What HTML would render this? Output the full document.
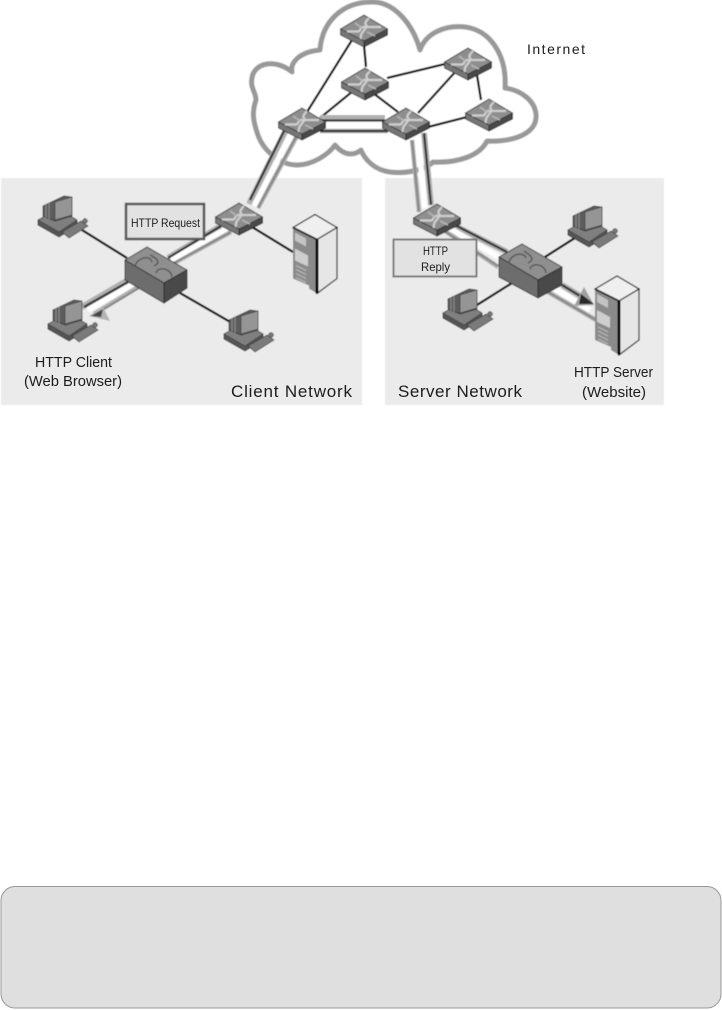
<!DOCTYPE html>
<html><head><meta charset="utf-8"><style>
html,body{margin:0;padding:0;background:#fff}
svg{display:block}
text{font-family:"Liberation Sans",sans-serif;fill:#1c1c1c}
</style></head><body>
<svg width="722" height="1010" viewBox="0 0 722 1010" xmlns="http://www.w3.org/2000/svg">
<defs>
<filter id="b" x="-5%" y="-5%" width="110%" height="110%"><feGaussianBlur stdDeviation="0.4"/></filter>
<g id="router">
<path d="M-23.500 0L0 12V18L-23.500 6Z" fill="#767676" stroke="#222" stroke-width=".7"/>
<path d="M23.500 0L0 12V18L23.500 6Z" fill="#4a4a4a" stroke="#111" stroke-width=".7"/>
<path d="M-23.500 0L0 -14L23.500 0L0 12Z" fill="#8e8e8e" stroke="#333" stroke-width=".8"/>
<path d="M-17 2.500H-6C-3 2.500 -5 -1 -1 -2H17M-3 10C-5 3 5 -1 2 -4C0 -6 3 -9 5 -11" fill="none" stroke="#cfcfcf" stroke-width="2.200"/>
<path d="M-9 -6L-2 -1M3 3L11 7" fill="none" stroke="#b4b4b4" stroke-width="1.800"/>
</g>
<g id="pc">
<path d="M-24 -4L-24 1L-3 13L15 2V-4L-4 -15Z" fill="#555" stroke="#222" stroke-width=".7"/>
<path d="M-24 -4L-3 8L15 -4L-4 -15Z" fill="#7f7f7f" stroke="#333" stroke-width=".6"/>
<path d="M-19 -18L2 -28L10 -27V-8L-7 -3L-19 -8Z" fill="#5c5c5c" stroke="#2a2a2a" stroke-width=".7"/>
<path d="M-13 -21V-5M-16 -19.500V-6.500" stroke="#8a8a8a" stroke-width="1.200"/>
<path d="M-7 -22L10 -27V-9L-7 -4Z" fill="#959595" stroke="#333" stroke-width=".6"/>
<path d="M0 8L19 -3L26 2L7 14Z" fill="#7a7a7a" stroke="#333" stroke-width=".7"/>
<circle cx="23" cy="-3" r="2.500" fill="#777" stroke="#333" stroke-width=".5"/>
</g>
<g id="server">
<path d="M0 12L22 -1L44 12L24 24Z" fill="#efefef" stroke="#111" stroke-width="1.200"/>
<path d="M24 24L44 12V63L24 78Z" fill="#e6e6e6" stroke="#111" stroke-width="1.200"/>
<path d="M0 12L24 24V78L16 73V70L0 63Z" fill="#8a8a8a"/>
<path d="M0 12L24 24" stroke="#000" stroke-width="1.800"/>
<path d="M24 24V78" stroke="#000" stroke-width="3"/>
<path d="M2 17L13 23V31L2 25Z" fill="#c4c4c4"/>
<path d="M2 33L15 40V51L2 45Z" fill="#cecece"/>
<path d="M3 50L13 55M3 54L13 59M3 58L13 63M3 62L13 67" stroke="#bbb" stroke-width="1"/>
</g>
</defs>
<g filter="url(#b)">
<rect x="1" y="178" width="361" height="227" fill="#ebebeb"/>
<rect x="385" y="178" width="279" height="227" fill="#ebebeb"/>
<path d="M320 50C322 22 342 2 372 2C395 2 413 25 420 50C426 33 445 25 465 27C490 30 507 55 505 88C520 90 535 100 536 115C537 133 515 142 487 141C480 155 460 163 433 162C425 170 405 174 390 172C375 170 365 160 361 150C355 155 345 157 335 145C328 155 312 165 297 165C280 165 262 150 257 132C253 120 252 112 256 100C256 92 250 88 252 78C254 63 275 58 292 72C290 62 300 52 320 50Z" fill="#fff" stroke="#999" stroke-width="5" stroke-linejoin="round"/>
<g stroke="#000" stroke-width="2.300" fill="none">
<path d="M352 40L307 112M364 45L366 67M353 91L320 118M373 93L398 112M387 78L445 64M457 70L418 113M477 75L481 100M428 127L467 117M82 230L127 258M252 227L293 252M180 293L232 323M545 257L578 236M512 283L477 305"/>
</g>
<g fill="none">
<g stroke="#b0b0b0" stroke-width="6">
<path d="M320 118H385M286 130L249 204M221 226L168 258M128 280L82 307M424 133L431 205M455 226L507 252M562 285L590 302"/>
</g>
<g stroke="#b0b0b0" stroke-width="4.500">
<path d="M320 131H388M297 136L258 208M231 232L174 263M138 287L94 314M412 140L419 212M444 230L498 267M548 292L596 320"/>
</g>
<g stroke="#fff" stroke-width="5.500">
<path d="M320 124.500H388M291.500 133L254 206M226 229L171 260M133 284L88 310M418 137L425 208M449 228L502 259M555 289L590 310"/>
</g>
<g stroke="#333" stroke-width="2.200">
<path d="M320 120.500H385M320 131H388M285 129L250 200M221 226L168 258M128 282L84 307M424 133L431 205M455 225L507 252M562 285L590 302"/>
</g>
<g stroke="#888" stroke-width="2">
<path d="M296 137L258 208M231 232L174 263M139 288L99 312M412 140L419 212M444 231L498 266M548 292L596 320"/>
</g>
</g>
<path d="M89 316L103 307L110 321Z" fill="#b4b4b4"/>
<path d="M91 316L103 309L101 317Z" fill="#444"/>
<path d="M594 305L584 287L574 306Z" fill="#a0a0a0"/>
<path d="M594 304L581 294L579 304Z" fill="#2a2a2a"/>
<use href="#router" x="364" y="29"/>
<use href="#router" x="365" y="82"/>
<use href="#router" x="468" y="62"/>
<use href="#router" x="489" y="113"/>
<use href="#router" x="302" y="122"/>
<use href="#router" x="406" y="122"/>
<use href="#router" x="239" y="217"/>
<use href="#router" x="437" y="218"/>
<path d="M125 260L147 247L187 270L164 283Z" fill="#8f8f8f" stroke="#222" stroke-width=".8"/>
<path d="M125 260L164 283V303L125 280Z" fill="#6d6d6d" stroke="#222" stroke-width=".8"/>
<path d="M164 283L187 270V288L164 303Z" fill="#4a4a4a" stroke="#222" stroke-width=".8"/>
<path d="M135 267C136 258 150 254 152 262M172 277C171 268 158 266 156 273M150 255C156 258 162 262 154 266" fill="none" stroke="#555" stroke-width="1.400"/>
<path d="M499 257L522 244L562 267L538 280Z" fill="#8f8f8f" stroke="#222" stroke-width=".8"/>
<path d="M499 257L538 280V298L499 277Z" fill="#6d6d6d" stroke="#222" stroke-width=".8"/>
<path d="M538 280L562 267V285L538 298Z" fill="#4a4a4a" stroke="#222" stroke-width=".8"/>
<path d="M509 263C510 254 524 251 526 258M546 273C545 264 532 262 530 269M524 251C530 255 536 259 528 263" fill="none" stroke="#555" stroke-width="1.400"/>
<use href="#pc" x="62" y="224"/>
<use href="#pc" x="72" y="328"/>
<use href="#pc" x="248" y="338"/>
<use href="#pc" x="592" y="234"/>
<use href="#pc" x="467" y="317"/>
<use href="#server" x="293" y="215.500"/>
<use href="#server" x="595" y="277"/>
<rect x="126" y="204" width="78" height="35" fill="#e2e2e2" stroke="#555" stroke-width="2.500"/>
<rect x="393.500" y="239.500" width="83" height="37" fill="#e2e2e2" stroke="#777" stroke-width="2"/>
</g>
<g>
<text x="527" y="54" font-size="14" textLength="58" lengthAdjust="spacing">Internet</text>
<text x="131" y="227" font-size="12" textLength="69" lengthAdjust="spacingAndGlyphs">HTTP Request</text>
<text x="423" y="255" font-size="12" textLength="25" lengthAdjust="spacingAndGlyphs">HTTP</text>
<text x="421" y="271" font-size="12" textLength="29" lengthAdjust="spacingAndGlyphs">Reply</text>
<text x="35" y="367" font-size="15" textLength="77" lengthAdjust="spacingAndGlyphs">HTTP Client</text>
<text x="24" y="386" font-size="15" textLength="98" lengthAdjust="spacingAndGlyphs">(Web Browser)</text>
<text x="231" y="397" font-size="17" textLength="121" lengthAdjust="spacing">Client Network</text>
<text x="398" y="397" font-size="17" textLength="124" lengthAdjust="spacing">Server Network</text>
<text x="574" y="377" font-size="15" textLength="79" lengthAdjust="spacingAndGlyphs">HTTP Server</text>
<text x="582" y="397" font-size="15" textLength="64" lengthAdjust="spacingAndGlyphs">(Website)</text>
</g>
<rect x="1" y="886.500" width="720" height="121.500" rx="14" ry="14" fill="#dfdfdf" stroke="#999" stroke-width="1"/>
</svg>
</body></html>
